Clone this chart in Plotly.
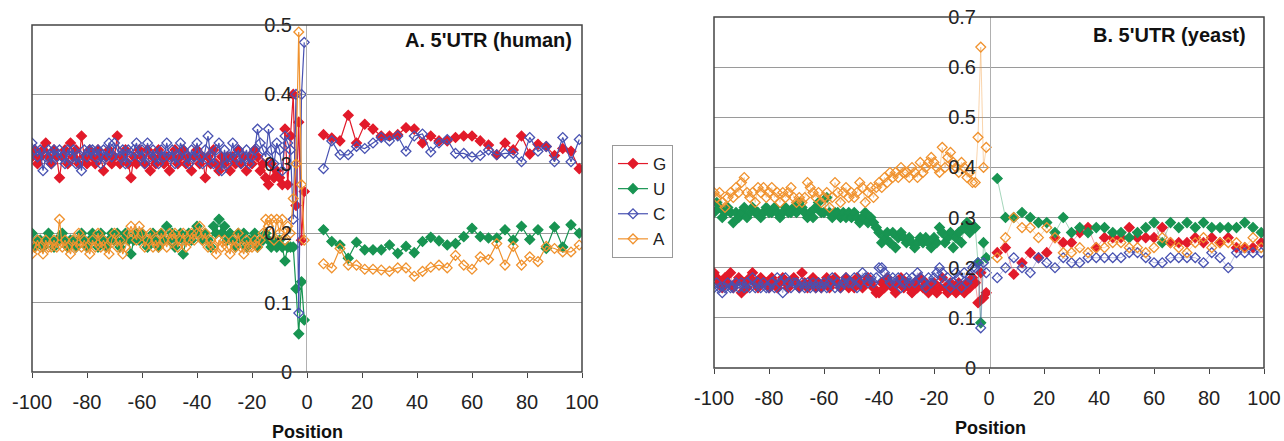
import plotly.graph_objects as go

# ---------------- data ----------------
pos_left = list(range(-100, 0))
pos_right_A = list(range(6, 100, 3))
pos_right_B = list(range(3, 100, 3))
x_ticks = [-100, -80, -60, -40, -20, 0, 20, 40, 60, 80, 100]
x_ticktext = ["-100", "-80", "-60", "-40", "-20", "0", "20", "40", "60", "80", "100"]

# Panel A (human)
G_A_left = [0.31,0.32,0.30,0.31,0.32,0.33,0.31,0.30,0.32,0.31,
            0.28,0.31,0.32,0.30,0.33,0.31,0.32,0.30,0.34,0.31,
            0.30,0.32,0.31,0.30,0.32,0.31,0.29,0.31,0.32,0.30,
            0.31,0.34,0.30,0.31,0.32,0.30,0.28,0.31,0.30,0.32,
            0.31,0.30,0.32,0.29,0.31,0.30,0.32,0.31,0.30,0.31,
            0.29,0.31,0.32,0.30,0.31,0.32,0.30,0.31,0.29,0.31,
            0.32,0.30,0.31,0.28,0.31,0.30,0.32,0.30,0.29,0.31,
            0.30,0.31,0.29,0.31,0.30,0.32,0.30,0.31,0.29,0.31,
            0.30,0.32,0.31,0.29,0.30,0.28,0.27,0.30,0.28,0.29,
            0.28,0.27,0.35,0.27,0.34,0.40,0.24,0.36,0.19,0.26]
U_A_left = [0.20,0.18,0.19,0.19,0.18,0.19,0.20,0.19,0.18,0.19,
            0.19,0.20,0.19,0.18,0.19,0.19,0.18,0.19,0.20,0.19,
            0.18,0.19,0.20,0.19,0.18,0.20,0.19,0.18,0.19,0.20,
            0.19,0.20,0.18,0.19,0.20,0.19,0.17,0.19,0.20,0.19,
            0.20,0.19,0.18,0.19,0.20,0.19,0.18,0.20,0.19,0.21,
            0.19,0.20,0.18,0.19,0.20,0.17,0.19,0.20,0.19,0.20,
            0.21,0.20,0.19,0.20,0.19,0.18,0.21,0.20,0.22,0.20,
            0.21,0.19,0.20,0.19,0.18,0.20,0.19,0.20,0.18,0.19,
            0.19,0.20,0.18,0.19,0.19,0.20,0.19,0.18,0.19,0.18,
            0.19,0.18,0.16,0.18,0.18,0.18,0.12,0.055,0.13,0.075]
C_A_left = [0.33,0.32,0.31,0.32,0.29,0.31,0.32,0.30,0.32,0.31,
            0.32,0.31,0.30,0.32,0.31,0.32,0.30,0.31,0.29,0.32,
            0.31,0.32,0.32,0.31,0.32,0.30,0.32,0.31,0.33,0.31,
            0.33,0.32,0.31,0.32,0.30,0.32,0.31,0.32,0.33,0.31,
            0.32,0.30,0.33,0.31,0.32,0.31,0.30,0.32,0.31,0.33,
            0.31,0.32,0.30,0.31,0.33,0.32,0.31,0.30,0.32,0.31,
            0.33,0.31,0.30,0.32,0.34,0.31,0.30,0.32,0.33,0.29,
            0.32,0.30,0.31,0.33,0.31,0.32,0.30,0.31,0.32,0.30,
            0.31,0.32,0.35,0.33,0.32,0.31,0.35,0.32,0.30,0.33,
            0.32,0.29,0.34,0.33,0.32,0.22,0.40,0.085,0.40,0.475]
A_A_left = [0.17,0.18,0.19,0.18,0.17,0.19,0.18,0.18,0.19,0.18,
            0.22,0.18,0.19,0.18,0.17,0.19,0.18,0.20,0.18,0.19,
            0.18,0.17,0.19,0.18,0.20,0.18,0.19,0.18,0.17,0.19,
            0.20,0.18,0.19,0.17,0.18,0.20,0.21,0.20,0.19,0.21,
            0.20,0.18,0.19,0.20,0.18,0.19,0.18,0.20,0.19,0.18,
            0.20,0.19,0.20,0.18,0.19,0.20,0.18,0.19,0.20,0.19,
            0.20,0.21,0.19,0.20,0.18,0.19,0.18,0.17,0.19,0.18,
            0.19,0.18,0.17,0.19,0.18,0.20,0.18,0.17,0.19,0.18,
            0.18,0.19,0.18,0.19,0.20,0.22,0.21,0.22,0.19,0.22,
            0.20,0.22,0.19,0.21,0.20,0.25,0.30,0.49,0.27,0.19]
G_A_right = [0.342,0.337,0.333,0.370,0.330,0.357,0.350,0.340,0.340,0.342,0.352,0.350,0.330,0.340,0.333,0.333,
             0.338,0.340,0.340,0.333,0.327,0.313,0.330,0.320,0.340,0.314,0.328,0.325,0.312,0.322,0.318,0.293]
U_A_right = [0.205,0.188,0.183,0.164,0.187,0.176,0.176,0.176,0.183,0.171,0.181,0.172,0.188,0.194,0.189,0.183,
             0.185,0.195,0.207,0.195,0.193,0.193,0.205,0.190,0.210,0.191,0.205,0.178,0.209,0.180,0.212,0.200]
C_A_right = [0.293,0.333,0.313,0.313,0.325,0.322,0.330,0.338,0.333,0.340,0.318,0.340,0.343,0.317,0.330,0.335,
             0.315,0.315,0.310,0.312,0.320,0.313,0.315,0.315,0.303,0.338,0.318,0.325,0.303,0.338,0.303,0.335]
A_A_right = [0.156,0.150,0.178,0.154,0.154,0.148,0.148,0.147,0.145,0.150,0.150,0.138,0.145,0.151,0.154,0.150,
             0.168,0.154,0.148,0.166,0.162,0.185,0.154,0.181,0.154,0.166,0.159,0.181,0.178,0.173,0.173,0.183]

# Panel B (yeast)
G_B_left = [0.19,0.18,0.17,0.16,0.18,0.17,0.19,0.16,0.17,0.18,
            0.15,0.17,0.16,0.18,0.19,0.17,0.16,0.18,0.17,0.17,
            0.16,0.18,0.17,0.16,0.17,0.18,0.17,0.16,0.17,0.18,
            0.17,0.16,0.19,0.17,0.16,0.17,0.18,0.16,0.17,0.16,
            0.17,0.18,0.16,0.17,0.18,0.17,0.16,0.17,0.18,0.16,
            0.17,0.16,0.18,0.17,0.16,0.17,0.18,0.17,0.16,0.15,
            0.15,0.17,0.16,0.18,0.17,0.16,0.15,0.17,0.18,0.16,
            0.17,0.16,0.15,0.17,0.16,0.18,0.16,0.17,0.15,0.16,
            0.17,0.15,0.16,0.18,0.16,0.15,0.17,0.16,0.15,0.17,
            0.16,0.15,0.17,0.16,0.18,0.17,0.13,0.19,0.14,0.15]
U_B_left = [0.31,0.33,0.32,0.30,0.31,0.32,0.31,0.29,0.31,0.30,
            0.31,0.32,0.30,0.31,0.32,0.31,0.31,0.30,0.31,0.32,
            0.31,0.31,0.32,0.31,0.30,0.31,0.32,0.31,0.31,0.32,
            0.31,0.33,0.32,0.31,0.30,0.31,0.30,0.32,0.33,0.31,
            0.31,0.34,0.31,0.30,0.31,0.31,0.30,0.31,0.30,0.31,
            0.30,0.31,0.30,0.29,0.30,0.31,0.29,0.30,0.29,0.28,
            0.27,0.25,0.26,0.27,0.25,0.27,0.24,0.26,0.27,0.26,
            0.25,0.26,0.25,0.24,0.25,0.26,0.25,0.26,0.25,0.24,
            0.26,0.25,0.28,0.27,0.25,0.26,0.27,0.24,0.26,0.27,
            0.25,0.28,0.29,0.27,0.28,0.28,0.21,0.09,0.25,0.22]
C_B_left = [0.16,0.17,0.16,0.15,0.16,0.17,0.16,0.16,0.17,0.16,
            0.17,0.16,0.17,0.16,0.18,0.16,0.17,0.16,0.17,0.16,
            0.16,0.17,0.16,0.18,0.17,0.15,0.18,0.17,0.16,0.17,
            0.17,0.16,0.17,0.16,0.17,0.16,0.17,0.16,0.17,0.16,
            0.17,0.16,0.17,0.18,0.16,0.17,0.16,0.17,0.18,0.17,
            0.17,0.18,0.16,0.17,0.19,0.18,0.17,0.18,0.17,0.18,
            0.20,0.20,0.19,0.18,0.17,0.18,0.17,0.18,0.16,0.17,
            0.18,0.17,0.18,0.17,0.19,0.18,0.17,0.16,0.18,0.17,
            0.18,0.19,0.20,0.19,0.17,0.18,0.16,0.17,0.19,0.18,
            0.16,0.19,0.17,0.18,0.20,0.20,0.21,0.08,0.21,0.19]
A_B_left = [0.35,0.34,0.35,0.33,0.32,0.34,0.35,0.34,0.36,0.35,
            0.37,0.38,0.35,0.34,0.35,0.33,0.36,0.35,0.36,0.34,
            0.35,0.36,0.34,0.35,0.33,0.35,0.34,0.35,0.36,0.34,
            0.33,0.34,0.33,0.34,0.37,0.36,0.35,0.34,0.35,0.33,
            0.34,0.35,0.32,0.34,0.37,0.35,0.33,0.35,0.36,0.34,
            0.35,0.34,0.35,0.37,0.36,0.33,0.35,0.36,0.34,0.36,
            0.37,0.36,0.38,0.37,0.39,0.38,0.39,0.38,0.40,0.39,
            0.39,0.38,0.40,0.39,0.38,0.41,0.39,0.40,0.41,0.42,
            0.41,0.40,0.39,0.44,0.40,0.42,0.43,0.41,0.40,0.39,
            0.41,0.40,0.38,0.39,0.37,0.37,0.46,0.64,0.40,0.44]
G_B_right = [0.23,0.24,0.187,0.21,0.23,0.22,0.23,0.26,0.25,0.25,0.27,0.28,0.24,0.26,0.26,0.26,0.28,
             0.26,0.26,0.26,0.28,0.25,0.25,0.25,0.26,0.25,0.26,0.25,0.26,0.24,0.24,0.24,0.25]
U_B_right = [0.378,0.30,0.30,0.31,0.30,0.29,0.29,0.27,0.30,0.27,0.28,0.27,0.28,0.28,0.27,0.27,0.26,
             0.27,0.28,0.29,0.25,0.29,0.28,0.29,0.28,0.29,0.28,0.28,0.28,0.28,0.29,0.28,0.27]
C_B_right = [0.18,0.20,0.22,0.20,0.19,0.22,0.21,0.20,0.22,0.21,0.21,0.22,0.22,0.22,0.22,0.22,0.23,
             0.23,0.22,0.21,0.21,0.22,0.22,0.22,0.22,0.21,0.23,0.22,0.20,0.23,0.23,0.23,0.23]
A_B_right = [0.22,0.26,0.30,0.28,0.28,0.26,0.28,0.26,0.23,0.23,0.24,0.23,0.24,0.24,0.25,0.25,0.24,
             0.24,0.23,0.24,0.26,0.25,0.24,0.23,0.25,0.26,0.24,0.25,0.25,0.25,0.24,0.26,0.24]

# ---------------- styles ----------------
series = [
    ("G", "rgb(226,26,42)", "diamond", G_A_left, G_A_right, G_B_left, G_B_right),
    ("U", "rgb(24,148,82)", "diamond", U_A_left, U_A_right, U_B_left, U_B_right),
    ("C", "rgb(72,82,178)", "diamond-open", C_A_left, C_A_right, C_B_left, C_B_right),
    ("A", "rgb(240,146,46)", "diamond-open", A_A_left, A_A_right, A_B_left, A_B_right),
]

fig = go.Figure()
for name, col, sym, al, ar, bl, br in series:
    mk = dict(symbol=sym, size=7.5, color=col, line=dict(color=col, width=1.3))
    for i, (xs, ys) in enumerate([(pos_left, al), (pos_right_A, ar)]):
        fig.add_trace(go.Scatter(x=xs, y=ys, mode="lines+markers", name=name,
                                 legendgroup=name, showlegend=(i == 0),
                                 line=dict(color=col, width=1.2), marker=mk,
                                 xaxis="x", yaxis="y"))
    for xs, ys in [(pos_left, bl), (pos_right_B, br)]:
        fig.add_trace(go.Scatter(x=xs, y=ys, mode="lines+markers", name=name,
                                 legendgroup=name, showlegend=False,
                                 line=dict(color=col, width=0.4),
                                 marker=mk, xaxis="x2", yaxis="y2"))

W, H = 1284, 441
A_dom = [32 / W, 582 / W]
B_dom = [714 / W, 1264 / W]
A_ydom = [1 - 372 / H, 1 - 25 / H]
B_ydom = [1 - 368 / H, 1 - 17 / H]

FONT = "Liberation Sans, Arial"
tickfont = dict(family=FONT, size=20, color="#222")
xcommon = dict(range=[-100, 100], tickvals=x_ticks, ticktext=x_ticktext, ticks="outside",
               ticklen=5, tickcolor="#444", showgrid=False, zeroline=False, showline=False,
               tickfont=tickfont, automargin=False, ticklabelstandoff=7)
ycommon = dict(dtick=0.1, showgrid=True, gridcolor="#9a9a9a", gridwidth=1, zeroline=False,
               showline=True, linecolor="#b0b0b0", linewidth=1, ticks="", tickfont=tickfont,
               ticklabelstandoff=10, anchor="free", automargin=False)

fig.update_layout(
    width=W, height=H, margin=dict(l=0, r=0, t=0, b=0, autoexpand=False),
    paper_bgcolor="white", plot_bgcolor="white",
    xaxis=dict(domain=A_dom, anchor="y", **xcommon),
    xaxis2=dict(domain=B_dom, anchor="y2", **xcommon),
    yaxis=dict(domain=A_ydom, range=[0, 0.5], position=306 / W, **ycommon),
    yaxis2=dict(domain=B_ydom, range=[0, 0.7], position=990 / W, **ycommon),
    showlegend=True,
    legend=dict(x=612 / W, y=1 - 145 / H, xanchor="left", yanchor="top",
                bordercolor="#999", borderwidth=1, bgcolor="white",
                font=dict(family=FONT, size=17, color="#222"),
                tracegroupgap=0, itemwidth=30),
    shapes=[
        dict(type="rect", xref="x domain", yref="y domain", x0=0, x1=1, y0=0, y1=1,
             line=dict(color="#444", width=1.5), layer="above"),
        dict(type="rect", xref="x2 domain", yref="y2 domain", x0=0, x1=1, y0=0, y1=1,
             line=dict(color="#444", width=1.5), layer="above"),
    ],
    annotations=[
        dict(text="<b>A. 5'UTR (human)</b>", xref="paper", yref="paper", x=574 / W, y=1 - 40 / H,
             xanchor="right", yanchor="middle", showarrow=False,
             font=dict(family=FONT, size=20, color="#111")),
        dict(text="<b>B. 5'UTR (yeast)</b>", xref="paper", yref="paper", x=1248 / W, y=1 - 35 / H,
             xanchor="right", yanchor="middle", showarrow=False,
             font=dict(family=FONT, size=20, color="#111")),
        dict(text="<b>Position</b>", xref="paper", yref="paper", x=307 / W, y=1 - 432 / H,
             xanchor="center", yanchor="middle", showarrow=False,
             font=dict(family=FONT, size=18, color="#111")),
        dict(text="<b>Position</b>", xref="paper", yref="paper", x=990 / W, y=1 - 428 / H,
             xanchor="center", yanchor="middle", showarrow=False,
             font=dict(family=FONT, size=18, color="#111")),
    ],
)

fig.write_html("out.html", config={"displayModeBar": False},
               post_script="document.body.style.margin='0';document.body.style.overflow='hidden';")
